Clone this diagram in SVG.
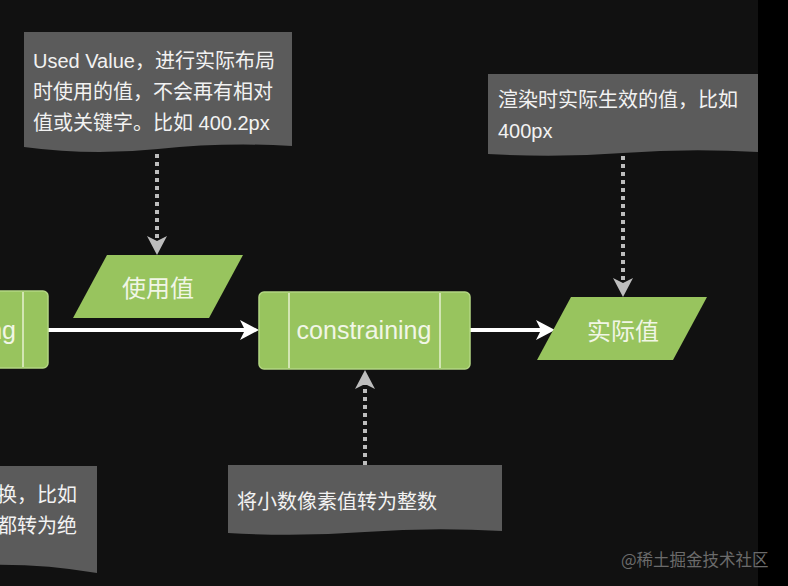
<svg xmlns="http://www.w3.org/2000/svg" width="788" height="586" viewBox="0 0 788 586">
<style>
.note{fill:#5b5b5b}
.nt{font-family:"Liberation Sans","Noto Sans CJK SC",sans-serif;font-size:20px;fill:#f2f2f2}
.box{fill:#98c45e;stroke:#b3d682;stroke-width:1.5}
.div{stroke:#e6f1d0;stroke-width:1.5}
.gt{font-family:"Liberation Sans","Noto Sans CJK SC",sans-serif;fill:#f1f6e6;text-anchor:middle}
.flow{stroke:#ffffff;stroke-width:4;fill:none}
.dot{stroke:#bdbdbd;stroke-width:4;stroke-dasharray:4 4;fill:none}
</style>
<defs>
<marker id="wa" markerUnits="userSpaceOnUse" markerWidth="19" markerHeight="20" refX="5" refY="10" orient="auto" viewBox="0 0 19 20">
<path d="M19,10 L0,0 L5,10 L0,20 Z" fill="#ffffff"/>
</marker>
<marker id="ga" markerUnits="userSpaceOnUse" markerWidth="19" markerHeight="20" refX="5" refY="10" orient="auto" viewBox="0 0 19 20">
<path d="M19,10 L0,0 L5,10 L0,20 Z" fill="#bdbdbd"/>
</marker>
</defs>
<rect x="0" y="0" width="788" height="586" fill="#111111"/>
<rect x="758" y="0" width="30" height="586" fill="#000000"/>

<g id="connectors">
<path class="flow" d="M48,330 H245" marker-end="url(#wa)"/>
<path class="flow" d="M470,330 H541" marker-end="url(#wa)"/>
<path class="dot" d="M157,154 V241" marker-end="url(#ga)"/>
<path class="dot" d="M623,156 V283" marker-end="url(#ga)"/>
<path class="dot" d="M365,465 V384" marker-end="url(#ga)"/>
</g>

<g id="note-used">
<path class="note" d="M24,32 H292 V146 Q225,142 158,149 T24,147 Z"/>
<text class="nt" x="33" y="68">Used Value，进行实际布局</text>
<text class="nt" x="33" y="99">时使用的值，不会再有相对</text>
<text class="nt" x="33" y="130">值或关键字。比如 400.2px</text>
</g>

<g id="note-actual">
<path class="note" d="M488,74 H758 V152 Q690,148 623,153 T488,154 Z"/>
<text class="nt" x="498" y="107">渲染时实际生效的值，比如</text>
<text class="nt" x="498" y="138">400px</text>
</g>

<g id="note-constraining">
<path class="note" d="M228,465 H502 V531 Q433,527 365,532 T228,533 Z"/>
<text class="nt" x="237" y="509">将小数像素值转为整数</text>
</g>

<g id="note-left">
<path class="note" d="M-100,466 H97 V573 Q40,563 -20,565 L-100,565 Z"/>
<text class="nt" x="-3" y="502">换，比如</text>
<text class="nt" x="-3" y="533">都转为绝</text>
</g>

<g id="box-left">
<rect class="box" x="-20" y="291" width="68" height="77" rx="5"/>
<line class="div" x1="23" y1="292" x2="23" y2="367"/>
<text class="gt" x="16" y="339" font-size="25" text-anchor="end" style="text-anchor:end">ng</text>
</g>

<g id="used-value">
<polygon class="box" points="107,255 243,255 209,318 73,318" style="stroke:none"/>
<text class="gt" x="158" y="297" font-size="24">使用值</text>
</g>

<g id="constraining">
<rect class="box" x="259" y="292" width="211" height="77" rx="5"/>
<line class="div" x1="289" y1="293" x2="289" y2="368"/>
<line class="div" x1="440" y1="293" x2="440" y2="368"/>
<text class="gt" x="364" y="339" font-size="25">constraining</text>
</g>

<g id="actual-value">
<polygon class="box" points="571,297 707,297 673,360 537,360" style="stroke:none"/>
<text class="gt" x="623" y="340" font-size="24">实际值</text>
</g>

<text x="621" y="566" font-family="'Noto Sans CJK SC',sans-serif" font-size="16.5" fill="#6b6b6b">@稀土掘金技术社区</text>
</svg>
